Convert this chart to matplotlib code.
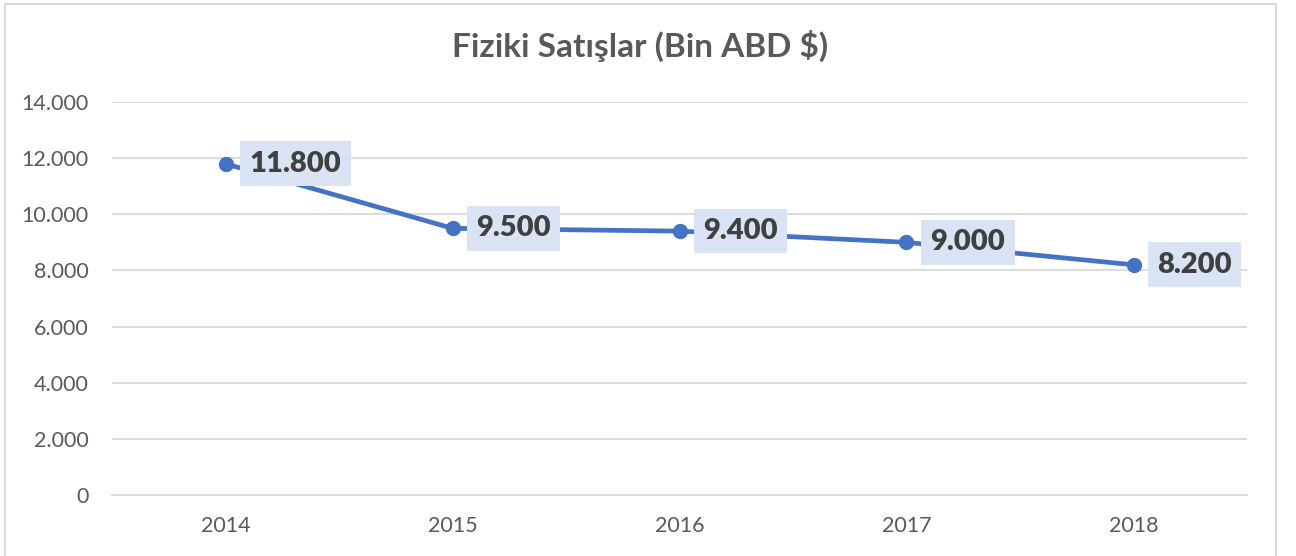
import matplotlib
matplotlib.use("Agg")
import matplotlib.pyplot as plt
from matplotlib.patches import Rectangle

years = ["2014", "2015", "2016", "2017", "2018"]
sales = [11800, 9500, 9400, 9000, 8200]
yticks = [0, 2000, 4000, 6000, 8000, 10000, 12000, 14000]
title = "Fiziki Satışlar (Bin ABD $)"

def fmt(v):
    return f"{v:,.0f}".replace(",", ".")

plt.rcParams['font.family'] = ['Lato', 'DejaVu Sans']

fig = plt.figure(figsize=(12.96, 5.56), dpi=100)
W, H = 1296, 556
ax = fig.add_axes([112 / W, 1 - 495 / H, (1247 - 112) / W, (495 - 102) / H])

x = list(range(len(years)))
ax.plot(x, sales, color="#4472C4", lw=3.4, marker="o", ms=10, zorder=3, solid_capstyle="round")

for xi, v in zip(x, sales):
    ax.annotate(fmt(v), (xi, v), xytext=(24, 0), textcoords="offset pixels",
                ha="left", va="center", fontsize=21, fontweight="heavy", color="#404040",
                bbox=dict(boxstyle="square,pad=0.32", fc="#DAE3F3", ec="none"), zorder=4)

ax.set_xlim(-0.5, len(years) - 0.5)
ax.set_ylim(0, 14000)
ax.set_yticks(yticks)
ax.set_yticklabels([fmt(t) for t in yticks])
ax.set_xticks(x)
ax.set_xticklabels(years)
ax.tick_params(axis="both", length=0, labelsize=15.5, colors="#595959")
ax.tick_params(axis="y", pad=17)
ax.tick_params(axis="x", pad=15)
ax.grid(axis="y", color="#D9D9D9", lw=1.3)
ax.set_axisbelow(True)
for s in ["top", "right", "left"]:
    ax.spines[s].set_visible(False)
ax.spines["bottom"].set_color("#D9D9D9")
ax.spines["bottom"].set_linewidth(1.3)

fig.text(640 / W, 1 - 46 / H, title, ha="center", va="center", fontsize=24,
         fontweight="bold", color="#595959")

fig.patches.append(Rectangle((4.5 / W, -0.05), (1276 - 4.5) / W, 1.05 - 3.5 / H,
                             transform=fig.transFigure, fill=False, ec="#D9D9D9", lw=1.5))

fig.savefig("out.png", dpi=100)
